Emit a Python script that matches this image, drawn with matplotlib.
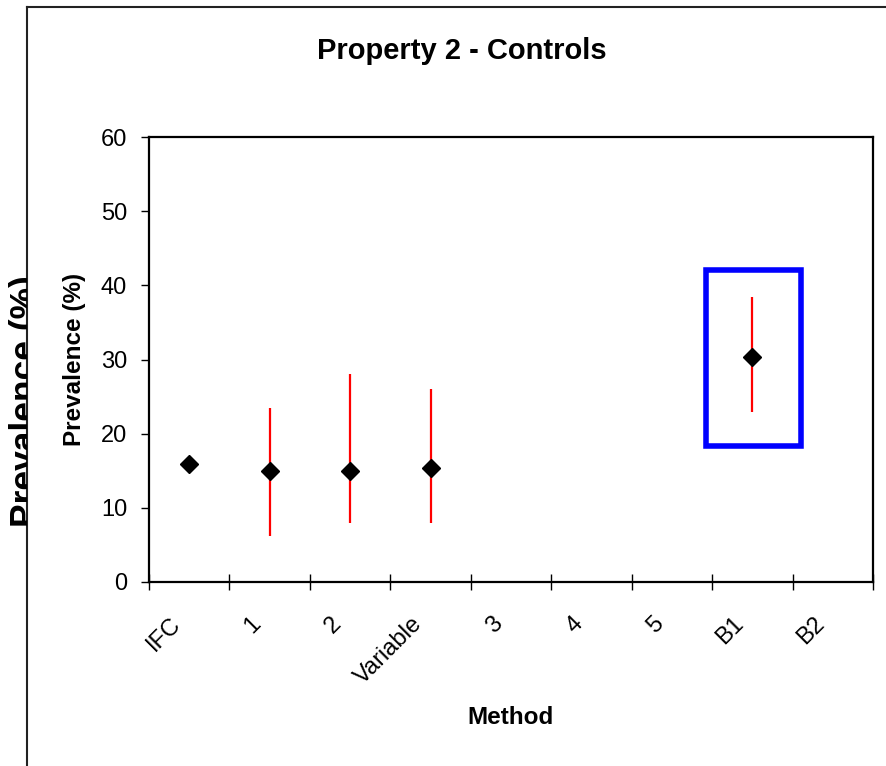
import numpy as np
import matplotlib
matplotlib.use("Agg")
import matplotlib.pyplot as plt
from matplotlib.patches import Rectangle
from matplotlib.lines import Line2D
from matplotlib.transforms import Bbox, TransformedBbox, ScaledTranslation

plt.rcParams["font.family"] = ["Liberation Sans", "DejaVu Sans"]

# chart data
methods = ["IFC", "1", "2", "Variable", "3", "4", "5", "B1", "B2"]
prevalence = [15.9, 14.9, 15.0, 15.4, np.nan, np.nan, np.nan, 30.3, np.nan]
ci_low = [np.nan, 6.2, 8.0, 8.0, np.nan, np.nan, np.nan, 22.9, np.nan]
ci_high = [np.nan, 23.5, 28.1, 26.0, np.nan, np.nan, np.nan, 38.4, np.nan]
y_ticks = [0, 10, 20, 30, 40, 50, 60]

W, H = 886, 766
fig = plt.figure(figsize=(W / 100, H / 100), dpi=100)
ax = fig.add_axes([149 / W, (H - 582) / H, 724 / W, 445 / H])

x = np.arange(len(methods))
has_ci = ~np.isnan(np.array(ci_low))
ax.vlines(x[has_ci], np.array(ci_low)[has_ci], np.array(ci_high)[has_ci],
          color="#ff0000", lw=1.6, zorder=2)
ax.plot(x, prevalence, "D", color="black", ms=9.5, ls="none", zorder=3)

# highlight box around B1
ax.add_patch(Rectangle((6.42, 18.4), 7.605 - 6.42, 42.07 - 18.4, fill=False,
                       edgecolor="#0000ff", lw=4.0, zorder=4))

ax.set_xlim(-0.5, len(methods) - 0.5)
ax.set_ylim(0, 60)
ax.set_yticks(y_ticks)
ax.tick_params(axis="y", direction="out", length=5.8, width=1, pad=10, labelsize=17)

ax.set_xticks(x)
ax.set_xticklabels(methods, rotation=45, ha="right", va="center", rotation_mode="anchor")
ax.set_xticks(np.arange(len(methods) + 1) - 0.5, minor=True)
ax.tick_params(axis="x", which="major", length=0, pad=28, labelsize=17)
ax.tick_params(axis="x", which="minor", direction="inout", length=11.5, width=1)
shift = ScaledTranslation(-12 / 100, 0, fig.dpi_scale_trans)
for lab in ax.get_xticklabels():
    lab.set_transform(lab.get_transform() + shift)

for s in ax.spines.values():
    s.set_linewidth(1.6)

ax.set_xlabel("Method", fontsize=17.5, fontweight="bold")
ax.xaxis.set_label_coords(0.5, -(718 - 582) / 445)
ax.xaxis.label.set_va("center")
ax.set_ylabel("Prevalence (%)", fontsize=17.5, fontweight="bold")
ax.yaxis.set_label_coords(-(149 - 86) / 724, 0.5)

fig.text(462 / W, (H - 51) / H, "Property 2 - Controls", fontsize=21,
         fontweight="bold", ha="center", va="center")

# outer frame lines
fig.add_artist(Line2D([27 / W, 27 / W], [0, (H - 7) / H], color="#222222", lw=1.5,
                      transform=fig.transFigure))
fig.add_artist(Line2D([27 / W, 1], [(H - 7) / H, (H - 7) / H], color="#222222", lw=1.5,
                      transform=fig.transFigure))

# big label cut off by the frame
big = fig.text(35 / W, (H - 527) / H, "Prevalence (%)", fontsize=25.5, fontweight="bold",
               rotation=90, rotation_mode="anchor", ha="left", va="baseline")
big.set_clip_box(TransformedBbox(Bbox.from_extents(0, 0, 27 / W, 1), fig.transFigure))
big.set_clip_on(True)

fig.savefig("out.png", dpi=100)
